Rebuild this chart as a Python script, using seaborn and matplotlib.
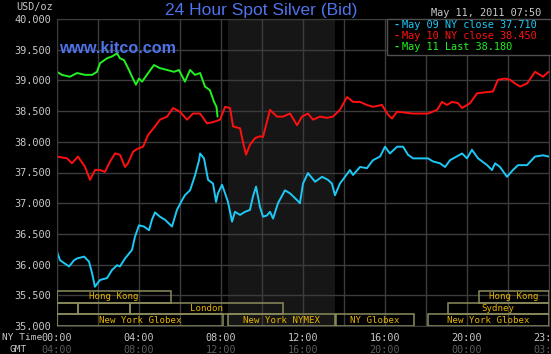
import matplotlib
matplotlib.use("Agg")
import matplotlib.pyplot as plt
import matplotlib.transforms as mtransforms
from matplotlib.patches import Rectangle
import numpy as np
import pandas as pd
import seaborn as sns

# --- data --------------------------------------------------------------------
# hours after 00:00 NY time, spot bid in USD/oz
may09_hours = [0.00, 0.15, 0.59, 0.83, 0.98, 1.32, 1.56, 1.71, 1.85, 2.10, 2.44, 2.68,
               2.93, 3.07, 3.32, 3.66, 3.80, 4.00, 4.24, 4.49, 4.63, 4.78, 5.02, 5.27,
               5.61, 5.85, 6.10, 6.24, 6.49, 6.73, 6.93, 6.98, 7.17, 7.37, 7.61, 7.76,
               7.85, 8.05, 8.20, 8.34, 8.54, 8.68, 8.93, 9.17, 9.41, 9.56, 9.71, 9.90,
               10.05, 10.24, 10.39, 10.54, 10.78, 11.12, 11.37, 11.71, 11.85, 12.00,
               12.24, 12.59, 12.93, 13.22, 13.41, 13.56, 13.80, 14.05, 14.29, 14.44,
               14.78, 15.12, 15.41, 15.76, 16.00, 16.24, 16.59, 16.88, 17.12, 17.37,
               18.10, 18.34, 18.68, 18.93, 19.17, 19.76, 20.00, 20.24, 20.54, 20.98,
               21.22, 21.37, 21.61, 21.95, 22.24, 22.49, 22.93, 23.32, 23.71, 23.98]
may09_price = [36.21, 36.07, 35.97, 36.07, 36.10, 36.13, 36.05, 35.86, 35.64, 35.75, 35.78, 35.91,
               35.99, 35.97, 36.10, 36.24, 36.45, 36.64, 36.62, 36.56, 36.73, 36.85, 36.78, 36.73,
               36.62, 36.89, 37.05, 37.13, 37.21, 37.45, 37.70, 37.81, 37.73, 37.38, 37.32, 37.02,
               37.16, 37.30, 37.16, 37.02, 36.70, 36.86, 36.81, 36.86, 36.89, 37.11, 37.27, 36.94,
               36.78, 36.80, 36.86, 36.75, 37.00, 37.21, 37.16, 37.05, 37.00, 37.32,
               37.49, 37.35, 37.43, 37.38, 37.32, 37.13, 37.32, 37.43, 37.54, 37.46,
               37.59, 37.57, 37.70, 37.76, 37.92, 37.81, 37.92, 37.92, 37.79, 37.73,
               37.73, 37.68, 37.65, 37.59, 37.70, 37.81, 37.73, 37.87, 37.73, 37.62,
               37.54, 37.65, 37.59, 37.43, 37.54, 37.62, 37.62, 37.76, 37.78, 37.76]

may10_hours = [0.00, 0.49, 0.73, 1.02, 1.37, 1.61, 1.85, 2.10, 2.34, 2.59, 2.83, 3.07,
               3.32, 3.46, 3.71, 3.95, 4.20, 4.44, 4.78, 5.02, 5.37, 5.66, 6.00, 6.34,
               6.63, 6.98, 7.32, 7.61, 7.95, 8.20, 8.44, 8.59, 8.93, 9.07, 9.22, 9.41,
               9.66, 9.90, 10.05, 10.39, 10.73, 11.02, 11.37, 11.71, 11.95, 12.24, 12.49,
               12.83, 13.17, 13.46, 13.80, 14.15, 14.44, 14.78, 15.12, 15.41, 15.85,
               16.15, 16.34, 16.59, 17.37, 18.10, 18.54, 18.78, 19.02, 19.27, 19.56,
               19.76, 20.15, 20.49, 21.27, 21.51, 21.85, 22.10, 22.34, 22.59, 22.93,
               23.32, 23.71, 23.98]
may10_price = [37.76, 37.73, 37.65, 37.76, 37.59, 37.38, 37.54, 37.54, 37.51, 37.68, 37.81, 37.79,
               37.59, 37.65, 37.84, 37.89, 37.92, 38.11, 38.25, 38.36, 38.41, 38.55, 38.49, 38.36,
               38.46, 38.46, 38.30, 38.32, 38.36, 38.57, 38.55, 38.25, 38.22, 38.00, 37.79, 37.95,
               38.06, 38.09, 38.08, 38.52, 38.41, 38.41, 38.46, 38.27, 38.41, 38.46, 38.36,
               38.41, 38.39, 38.41, 38.52, 38.73, 38.65, 38.65, 38.60, 38.57, 38.60,
               38.44, 38.38, 38.49, 38.46, 38.46, 38.52, 38.65, 38.60, 38.65, 38.63,
               38.55, 38.63, 38.79, 38.82, 39.01, 39.03, 39.01, 38.95, 38.90, 38.95,
               39.14, 39.06, 39.14]

may11_hours = [0.00, 0.24, 0.63, 0.98, 1.37, 1.71, 1.95, 2.10, 2.44, 2.68, 2.93, 3.07,
               3.27, 3.51, 3.66, 3.85, 4.00, 4.15, 4.49, 4.73, 5.02, 5.37, 5.71, 5.95,
               6.24, 6.49, 6.73, 6.98, 7.22, 7.46, 7.66, 7.78, 7.83]
may11_price = [39.14, 39.09, 39.06, 39.12, 39.09, 39.09, 39.14, 39.28, 39.36, 39.39, 39.44, 39.36,
               39.33, 39.17, 39.06, 38.93, 39.03, 38.98, 39.14, 39.25, 39.20, 39.17, 39.14, 39.17,
               38.98, 39.17, 39.09, 39.12, 38.90, 38.84, 38.65, 38.57, 38.41]

series_names = ["May 09", "May 10", "May 11"]
legend_texts = ["May 09 NY close 37.710", "May 10 NY close 38.450", "May 11 Last 38.180"]

# trading sessions: (name, start hour, end hour, row)  row 0 = bottom
sessions = [
    ("New York Globex", 0.0, 8.1, 0),
    ("New York NYMEX", 8.35, 13.55, 0),
    ("NY Globex", 13.6, 17.43, 0),
    ("New York Globex", 18.1, 24.0, 0),
    ("", 0.0, 1.04, 1),
    ("", 1.04, 3.55, 1),
    ("London", 3.55, 11.04, 1),
    ("Sydney", 19.06, 24.0, 1),
    ("Hong Kong", 0.0, 5.56, 2),
    ("Hong Kong", 20.6, 24.0, 2),
]
nymex_floor = (8.33, 13.55)

tick_hours = [0, 4, 8, 12, 16, 20, 23.983]
ny_labels = ["00:00", "04:00", "08:00", "12:00", "16:00", "20:00", "23:59"]
gmt_labels = ["04:00", "08:00", "12:00", "16:00", "20:00", "00:00", "03:59"]

df = pd.concat([
    pd.DataFrame({"hour": may09_hours, "price": may09_price, "series": "May 09"}),
    pd.DataFrame({"hour": may10_hours, "price": may10_price, "series": "May 10"}),
    pd.DataFrame({"hour": may11_hours, "price": may11_price, "series": "May 11"}),
])

palette = {"May 09": "#1ec8f5", "May 10": "#ff1010", "May 11": "#22f022"}

# --- style ---------------------------------------------------------------------
sns.set_style("dark")
plt.rcParams["font.family"] = ["DejaVu Sans Mono"]
fg = "#c8c8c8"
mono = "DejaVu Sans Mono"

fig = plt.figure(figsize=(5.51, 3.54), dpi=100, facecolor="black")
ax = fig.add_axes([57 / 551, 1 - 326 / 354, 492 / 551, 307 / 354])
ax.set_facecolor("black")

ax.axvspan(*nymex_floor, color="#161616", zorder=0.2, lw=0)

sns.lineplot(data=df, x="hour", y="price", hue="series", hue_order=series_names,
             palette=palette, ax=ax, legend=False, linewidth=1.4,
             estimator=None, sort=False)

ax.set_xlim(0, 24)
ax.set_ylim(35, 40)
ax.set_xticks(np.arange(0, 25, 2))
ax.set_xticklabels([])
ax.set_yticks(np.arange(35, 40.01, 0.5))
ax.set_yticklabels([f"{v:.3f}" for v in np.arange(35, 40.01, 0.5)],
                   color=fg, fontsize=7.4, family=mono)
ax.tick_params(length=0, pad=4)
ax.set_xlabel("")
ax.set_ylabel("")
ax.grid(True, color="#3c3c3c", lw=1)
ax.set_axisbelow(True)
for s in ax.spines.values():
    s.set_color("#3c3c3c")

# session boxes
row_h = 0.19
for name, start, end, row in sessions:
    y0 = 35.0 + row * row_h
    ax.add_patch(Rectangle((start, y0), end - start, row_h, fill=False,
                           edgecolor="#8c8c5c", lw=1.1, zorder=3))
    if name:
        ax.text((start + end) / 2, y0 + row_h / 2, name, ha="center", va="center",
                color="#e6b400", fontsize=6.6, family=mono, zorder=4)

# time labels below the plot (the last one runs off the edge, as in the original)
tr = mtransforms.blended_transform_factory(ax.transData, fig.transFigure)
for h, ny, gmt in zip(tick_hours, ny_labels, gmt_labels):
    ax.text(h, 1 - 338 / 354, ny, transform=tr, ha="center", va="center",
            color=fg, fontsize=7.3, family=mono, clip_on=False)
    ax.text(h, 1 - 350 / 354, gmt, transform=tr, ha="center", va="center",
            color="#5a5a5a", fontsize=7.3, family=mono, clip_on=False)
fig.text(2 / 551, 1 - 338 / 354, "NY Time", ha="left", va="center", color=fg,
         fontsize=6.8, family=mono)
fig.text(9 / 551, 1 - 350 / 354, "GMT", ha="left", va="center", color=fg,
         fontsize=6.8, family=mono)

# header
fig.text(53 / 551, 1 - 7 / 354, "USD/oz", ha="right", va="center", color=fg,
         fontsize=7.3, family=mono)
fig.text(261 / 551, 1 - 10 / 354, "24 Hour Spot Silver (Bid)", ha="center",
         va="center", color="#4f73ea", fontsize=12.5, family="Liberation Sans")
fig.text(541 / 551, 1 - 13 / 354, "May 11, 2011 07:50", ha="right", va="center",
         color=fg, fontsize=7.4, family=mono)
ax.text(0.004, 0.905, "www.kitco.com", transform=ax.transAxes, ha="left",
        va="center", color="#4f73ea", fontsize=11.6, family="Liberation Sans",
        fontweight="bold", zorder=5)

# legend box
ax.add_patch(Rectangle((0.670, 0.883), 0.34, 0.117, transform=ax.transAxes,
                       facecolor="black", edgecolor="#505050", lw=1, zorder=5,
                       clip_on=False))
for i, (name, txt) in enumerate(zip(series_names, legend_texts)):
    yy = [0.980, 0.945, 0.909][i]
    ax.text(0.683, yy, "-", transform=ax.transAxes, ha="left", va="center",
            color=palette[name], fontsize=7.4, family=mono, fontweight="bold",
            zorder=6)
    ax.text(0.701, yy, txt, transform=ax.transAxes, ha="left", va="center",
            color=palette[name], fontsize=7.4, family=mono, zorder=6)

fig.savefig("out.png", dpi=100, facecolor="black")
